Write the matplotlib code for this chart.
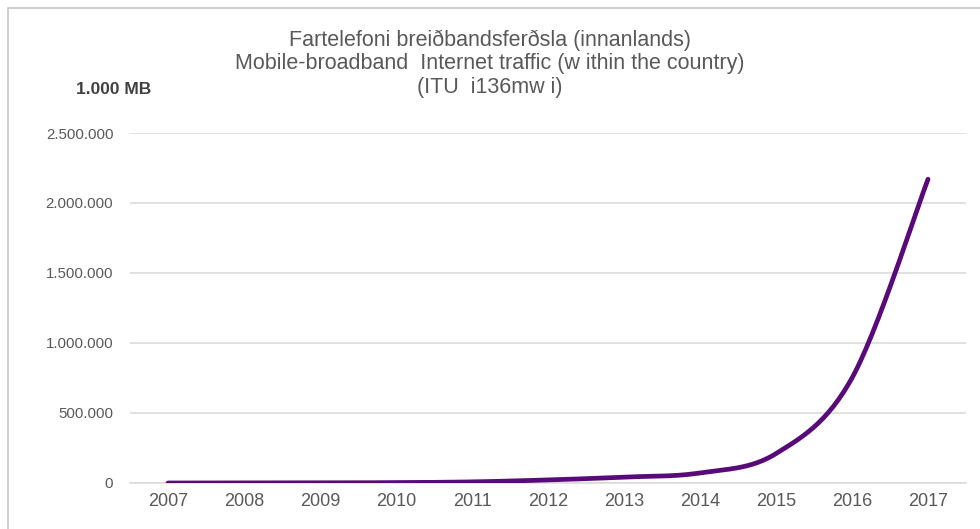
import numpy as np
import matplotlib
matplotlib.use('Agg')
import matplotlib.pyplot as plt
from matplotlib.ticker import FuncFormatter
from matplotlib.patches import Rectangle

years = ['2007', '2008', '2009', '2010', '2011', '2012',
         '2013', '2014', '2015', '2016', '2017']
traffic = [0, 500, 1000, 3000, 8000, 22000, 42000, 72000, 210000, 750000, 2170000]

title_lines = ['Fartelefoni breiðbandsferðsla (innanlands)',
               'Mobile-broadband  Internet traffic (w ithin the country)',
               '(ITU  i136mw i)']
unit_label = '1.000 MB'

LINE_COLOR = '#580a78'
TEXT_COLOR = '#595959'
GRID_COLOR = '#d9d9d9'

plt.rcParams['font.family'] = ['Liberation Sans', 'DejaVu Sans']


def smooth_curve(x, y, steps=30):
    # Excel-style bezier smoothing between consecutive points
    x = np.asarray(x, float); y = np.asarray(y, float)
    n = len(x)
    xs, ys = [], []
    t = np.linspace(0, 1, steps)
    for i in range(n - 1):
        p0 = np.array([x[max(i - 1, 0)], y[max(i - 1, 0)]])
        p1 = np.array([x[i], y[i]])
        p2 = np.array([x[i + 1], y[i + 1]])
        p3 = np.array([x[min(i + 2, n - 1)], y[min(i + 2, n - 1)]])
        c1 = p1 + (p2 - p0) / 6
        c2 = p2 - (p3 - p1) / 6
        b = ((1 - t) ** 3)[:, None] * p1 + (3 * (1 - t) ** 2 * t)[:, None] * c1 \
            + (3 * (1 - t) * t ** 2)[:, None] * c2 + (t ** 3)[:, None] * p2
        xs.extend(b[:, 0]); ys.extend(b[:, 1])
    return np.array(xs), np.array(ys)


fig = plt.figure(figsize=(9.8, 5.29), dpi=100)
ax = fig.add_axes([130 / 980, 46 / 529, 836 / 980, 350 / 529])

pos = np.arange(len(years))
sx, sy = smooth_curve(pos, traffic)
ax.plot(sx, sy, color=LINE_COLOR, lw=3.4, solid_capstyle='round', zorder=3)

ax.set_xlim(-0.5, len(years) - 0.5)
ax.set_ylim(0, 2500000)
ax.set_yticks(np.arange(0, 2500001, 500000))
ax.yaxis.set_major_formatter(FuncFormatter(lambda v, p: f'{int(v):,}'.replace(',', '.')))
ax.set_xticks(pos)
ax.set_xticklabels(years)

ax.grid(axis='y', color=GRID_COLOR, lw=1.1)
ax.set_axisbelow(True)
for s in ['top', 'right', 'left']:
    ax.spines[s].set_visible(False)
ax.spines['bottom'].set_color(GRID_COLOR)
ax.spines['bottom'].set_linewidth(1.1)
ax.tick_params(axis='x', length=0, labelsize=13, colors=TEXT_COLOR, pad=7)
ax.tick_params(axis='y', length=0, labelsize=10.8, colors=TEXT_COLOR, pad=12)

for i, line in enumerate(title_lines):
    fig.text(0.5, 1 - (40 + 23.5 * i) / 529, line, ha='center', va='center',
             fontsize=15.5, color=TEXT_COLOR)
fig.text(76 / 980, 1 - 90 / 529, unit_label, ha='left', va='center',
         fontsize=12.5, fontweight='bold', color='#404040')

fig.patches.append(Rectangle((8 / 980, -0.1), 1.2, 1 - 8 / 529 + 0.1,
                             transform=fig.transFigure, fill=False,
                             edgecolor='#c8c8c8', lw=1.2))

fig.savefig('out.png', dpi=100)
